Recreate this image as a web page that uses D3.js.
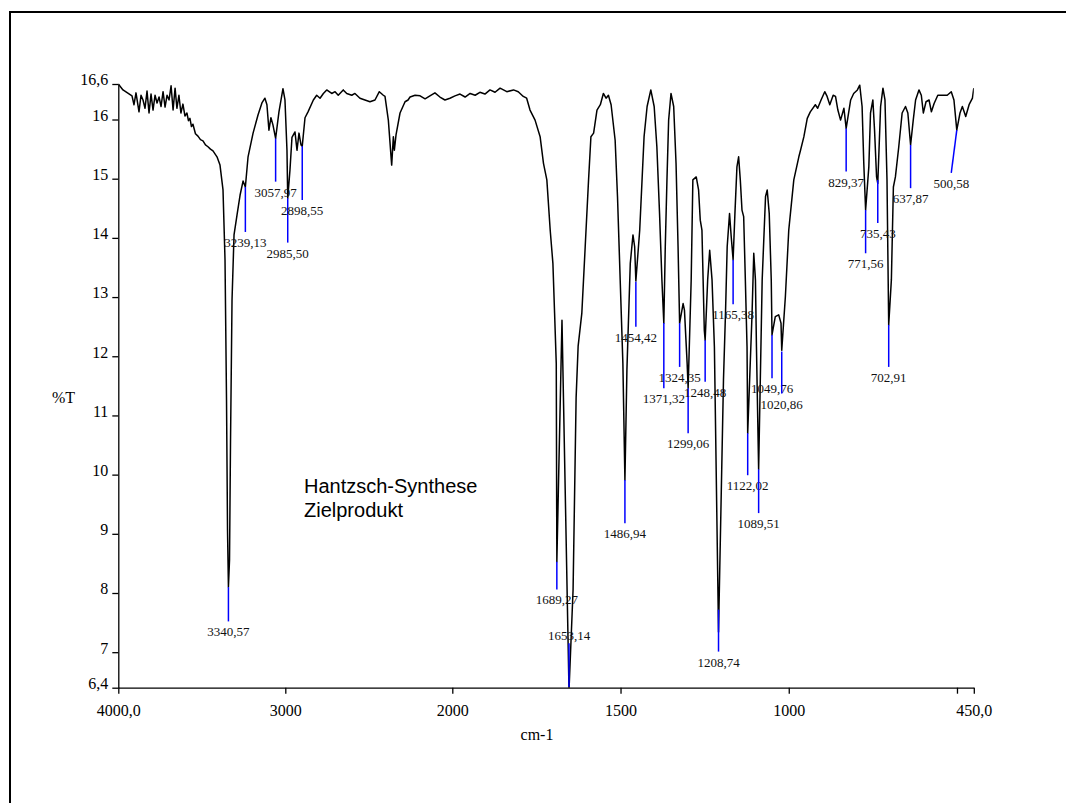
<!DOCTYPE html>
<html>
<head>
<meta charset="utf-8">
<script src="https://cdn.jsdelivr.net/npm/d3@7"></script>
<style>
  body { margin: 0; background: #fff; }
  svg { display: block; }
  .axis path, .axis line { stroke: #000; stroke-width: 1.3px; }
  .axis text, .serif-text { font-family: "Liberation Serif", "Times New Roman", serif; font-size: 16px; fill: #000; }
  .peak-label { font-family: "Liberation Serif", "Times New Roman", serif; font-size: 13px; fill: #111; }
</style>
</head>
<body>
<svg id="chart" width="1066" height="803"></svg>
<script>
  // spectrum (cm-1 / %T)
  var wavenumber = [
    4000, 3972, 3918, 3906, 3894, 3876, 3864, 3852, 3840, 3828, 3816, 3804, 3792, 3780, 3768, 3756,
    3744, 3732, 3720, 3708, 3696, 3684, 3672, 3660, 3649, 3637, 3625, 3613, 3601, 3589, 3580, 3571,
    3562, 3553, 3538, 3523, 3508, 3493, 3478, 3463, 3448, 3433, 3409, 3391, 3373, 3361, 3352, 3346,
    3340.57, 3334, 3328, 3319, 3307, 3289, 3271, 3253, 3239.13, 3223, 3193, 3163, 3140, 3122, 3110, 3098,
    3086, 3074, 3057.97, 3038, 3014, 3002, 2990, 2985.5, 2972, 2960, 2942, 2930, 2918, 2906, 2898.55, 2882,
    2864, 2832, 2812, 2792, 2772, 2752, 2722, 2702, 2683, 2653, 2632, 2602, 2583, 2553, 2523, 2493,
    2463, 2437, 2413, 2403, 2383, 2363, 2353, 2347, 2337, 2313, 2283, 2265, 2253, 2223, 2193, 2163,
    2134, 2104, 2074, 2044, 2014, 1992, 1977, 1962, 1947, 1932, 1918, 1903, 1888, 1873, 1858, 1838,
    1818, 1804, 1789, 1779, 1769, 1754, 1739, 1729, 1719, 1709, 1701, 1696, 1691, 1689.27, 1674, 1653.14,
    1641, 1632, 1626, 1615, 1605, 1595, 1588, 1580, 1570, 1560, 1551, 1543, 1536, 1528, 1516, 1509,
    1501, 1493, 1486.94, 1481, 1471, 1463, 1458, 1454.42, 1443, 1436, 1430, 1421, 1410, 1400, 1392, 1384,
    1377, 1371.32, 1367, 1362, 1357, 1350, 1342, 1335, 1329, 1324.35, 1314, 1310, 1302, 1299.06, 1290, 1285,
    1275, 1268, 1263, 1258, 1251, 1248.48, 1241, 1235, 1228, 1221, 1208.74, 1194, 1188, 1183, 1176, 1171,
    1165.38, 1160, 1154, 1149, 1144, 1139, 1134, 1129, 1124, 1122.02, 1109, 1104, 1099, 1096, 1089.51, 1079,
    1069, 1064, 1058, 1052, 1049.76, 1040, 1030, 1023, 1020.86, 1010, 1000, 985, 970, 965, 955, 945,
    936, 921, 914, 904, 893, 886, 878, 868, 861, 854, 846, 836, 829.37, 816, 807, 796,
    789, 782, 777, 771.56, 762, 757, 750, 745, 739, 735.43, 727, 720, 714, 708, 702.91, 695,
    689, 683, 673, 663, 653, 646, 637.87, 630, 623, 613, 606, 600, 592, 583, 576, 568,
    557, 544, 529, 517, 509, 500.58, 491, 484, 474, 464, 454, 450
  ];
  var transmittance = [
    16.60, 16.50, 16.40, 16.25, 16.45, 16.13, 16.41, 16.33, 16.19, 16.48, 16.11, 16.43, 16.16, 16.41, 16.28, 16.38,
    16.22, 16.47, 16.21, 16.41, 16.33, 16.57, 16.16, 16.53, 16.19, 16.41, 16.11, 16.26, 16.06, 16.11, 15.98, 16.02,
    15.88, 15.92, 15.76, 15.72, 15.66, 15.64, 15.57, 15.54, 15.50, 15.47, 15.37, 15.23, 14.81, 13.63, 11.26, 9.06,
    8.10, 8.56, 10.58, 12.95, 14.05, 14.39, 14.72, 14.96, 14.86, 15.37, 15.77, 16.08, 16.28, 16.36, 16.25, 15.82,
    16.03, 15.91, 15.68, 16.13, 16.52, 16.33, 15.48, 14.67, 15.15, 15.70, 15.79, 15.48, 15.77, 15.57, 15.55, 16.03,
    16.13, 16.33, 16.41, 16.36, 16.44, 16.50, 16.44, 16.47, 16.41, 16.50, 16.44, 16.41, 16.44, 16.36, 16.33, 16.30,
    16.33, 16.47, 16.41, 16.39, 15.99, 15.23, 15.71, 15.48, 15.74, 16.11, 16.30, 16.33, 16.38, 16.41, 16.40, 16.35,
    16.40, 16.45, 16.38, 16.33, 16.36, 16.40, 16.43, 16.38, 16.44, 16.41, 16.46, 16.43, 16.50, 16.46, 16.53, 16.47,
    16.50, 16.47, 16.39, 16.36, 16.16, 15.99, 15.71, 15.26, 14.98, 14.13, 13.57, 12.73, 11.88, 8.53, 12.61, 6.35,
    8.06, 11.30, 12.17, 12.73, 13.85, 14.98, 15.71, 15.77, 16.16, 16.25, 16.44, 16.36, 16.41, 16.25, 15.65, 14.70,
    13.29, 11.88, 9.91, 11.77, 13.57, 14.05, 13.85, 13.27, 14.13, 14.98, 15.71, 16.22, 16.50, 16.22, 15.54, 14.41,
    13.29, 12.56, 13.85, 14.98, 15.99, 16.44, 16.22, 15.26, 13.85, 12.56, 12.89, 12.78, 11.88, 11.46, 13.29, 14.98,
    15.03, 14.81, 14.30, 14.13, 12.44, 12.27, 13.29, 13.79, 13.29, 12.16, 7.34, 11.60, 12.73, 13.85, 14.41, 14.02,
    13.63, 14.41, 15.20, 15.37, 14.98, 14.47, 14.36, 13.29, 12.16, 10.70, 12.73, 13.74, 13.29, 12.16, 10.09, 13.29,
    14.70, 14.81, 14.41, 13.29, 12.36, 12.67, 12.70, 12.56, 12.10, 13.01, 14.13, 14.98, 15.37, 15.48, 15.71, 16.02,
    16.13, 16.25, 16.19, 16.33, 16.47, 16.39, 16.25, 16.41, 16.39, 16.16, 15.99, 16.19, 15.85, 16.33, 16.44, 16.50,
    16.58, 16.22, 15.26, 14.47, 15.20, 16.11, 16.33, 15.82, 15.03, 14.92, 16.22, 16.53, 16.33, 14.98, 12.53, 13.29,
    14.86, 15.03, 15.54, 16.11, 16.22, 16.11, 15.57, 15.99, 16.33, 16.50, 16.41, 16.11, 16.30, 16.33, 16.13, 16.27,
    16.41, 16.41, 16.41, 16.47, 16.33, 15.82, 16.11, 16.22, 16.05, 16.25, 16.36, 16.53
  ];

  // peak picking
  var peakNames = ['3340,57', '3239,13', '3057,97', '2985,50', '2898,55', '1689,27', '1653,14', '1486,94',
    '1454,42', '1371,32', '1324,35', '1299,06', '1248,48', '1208,74', '1165,38', '1122,02', '1089,51',
    '1049,76', '1020,86', '829,37', '771,56', '735,43', '702,91', '637,87', '500,58'];
  var peakWn = [3340.57, 3239.13, 3057.97, 2985.5, 2898.55, 1689.27, 1653.14, 1486.94,
    1454.42, 1371.32, 1324.35, 1299.06, 1248.48, 1208.74, 1165.38, 1122.02, 1089.51,
    1049.76, 1020.86, 829.37, 771.56, 735.43, 702.91, 637.87, 500.58];
  var peakT = [8.10, 14.86, 15.68, 14.67, 15.55, 8.53, 6.41, 9.91,
    13.26, 12.56, 12.56, 11.46, 12.27, 7.72, 13.63, 10.70, 10.09,
    12.36, 12.08, 15.85, 14.47, 14.98, 12.53, 15.57, 15.82];
  var peakTipT = [7.52, 14.10, 14.95, 13.92, 14.64, 8.06, 7.15, 9.18,
    12.50, 11.46, 11.82, 10.70, 11.57, 7.01, 12.88, 9.99, 9.35,
    11.63, 11.37, 15.12, 13.74, 14.25, 11.82, 14.84, 15.10];
  var peakTipWn = [3340.57, 3239.13, 3057.97, 2985.5, 2898.55, 1689.27, 1653.14, 1486.94,
    1454.42, 1371.32, 1324.35, 1299.06, 1248.48, 1208.74, 1165.38, 1122.02, 1089.51,
    1049.76, 1020.86, 829.37, 771.56, 735.43, 702.91, 637.87, 517];

  var xTicks = [4000, 3000, 2000, 1500, 1000, 500, 450];
  var xTickText = ['4000,0', '3000', '2000', '1500', '1000', '', '450,0'];
  var yTicks = [16.6, 16, 15, 14, 13, 12, 11, 10, 9, 8, 7, 6.4];
  var yTickText = ['16,6', '16', '15', '14', '13', '12', '11', '10', '9', '8', '7', '6,4'];

  var svg = d3.select('#chart');

  // x scale is split at 2000 like on the instrument printout
  var x = d3.scaleLinear().domain([4000, 2000, 450]).range([118.3, 452.3, 973.8]);
  var y = d3.scaleLinear().domain([6.4, 16.6]).range([687.7, 84]);

  svg.append('rect')
    .attr('x', 10).attr('y', 12)
    .attr('width', 1200).attr('height', 1000)
    .attr('fill', 'none').attr('stroke', '#000').attr('stroke-width', 2);

  svg.append('clipPath').attr('id', 'plot-clip')
    .append('rect')
    .attr('x', 118.3).attr('y', 80)
    .attr('width', 973.8 - 118.3).attr('height', 687.7 - 80);

  var xAxis = d3.axisBottom(x)
    .tickValues(xTicks)
    .tickFormat(function(d, i) { return xTickText[i]; })
    .tickSize(6).tickSizeOuter(0).tickPadding(11);

  var yAxis = d3.axisLeft(y)
    .tickValues(yTicks)
    .tickFormat(function(d, i) { return yTickText[i]; })
    .tickSize(6).tickSizeOuter(0).tickPadding(4);

  var gx = svg.append('g').attr('class', 'axis')
    .attr('transform', 'translate(0,687.7)')
    .call(xAxis);
  gx.selectAll('text').attr('class', 'serif-text');

  var gy = svg.append('g').attr('class', 'axis')
    .attr('transform', 'translate(118.3,0)')
    .call(yAxis);
  // labels sit just above their tick
  gy.selectAll('text').attr('class', 'serif-text').attr('dy', '0.05em');

  svg.append('text').attr('class', 'serif-text')
    .attr('x', 537).attr('y', 740)
    .attr('text-anchor', 'middle')
    .text('cm-1');

  svg.append('text').attr('class', 'serif-text')
    .attr('x', 52).attr('y', 403)
    .text('%T');

  var points = wavenumber.map(function(w, i) { return [w, transmittance[i]]; });

  var line = d3.line()
    .x(function(d) { return x(d[0]); })
    .y(function(d) { return y(d[1]); });

  svg.append('path')
    .datum(points)
    .attr('clip-path', 'url(#plot-clip)')
    .attr('d', line)
    .attr('fill', 'none')
    .attr('stroke', '#000')
    .attr('stroke-width', 1.5)
    .attr('stroke-linejoin', 'round');

  var peaks = peakNames.map(function(name, i) {
    return { name: name, wn: peakWn[i], t: peakT[i], tip: peakTipT[i], tipWn: peakTipWn[i] };
  });

  var pk = svg.append('g').selectAll('g').data(peaks).enter().append('g');

  pk.append('line')
    .attr('x1', function(d) { return x(d.wn); })
    .attr('y1', function(d) { return y(d.t); })
    .attr('x2', function(d) { return x(d.tipWn); })
    .attr('y2', function(d) { return y(d.tip); })
    .attr('stroke', '#0000ff')
    .attr('stroke-width', 1.5);

  pk.append('text')
    .attr('class', 'peak-label')
    .attr('text-anchor', 'middle')
    .attr('x', function(d) { return x(d.tipWn); })
    .attr('y', function(d) { return d.tip > d.t ? y(d.tip) - 3 : y(d.tip) + 15; })
    .text(function(d) { return d.name; });

  var note = svg.append('text')
    .attr('font-family', '"Liberation Sans", Arial, sans-serif')
    .attr('font-size', 20)
    .attr('fill', '#000');
  note.append('tspan').attr('x', 304).attr('y', 493).text('Hantzsch-Synthese');
  note.append('tspan').attr('x', 304).attr('y', 517).text('Zielprodukt');
</script>
</body>
</html>
